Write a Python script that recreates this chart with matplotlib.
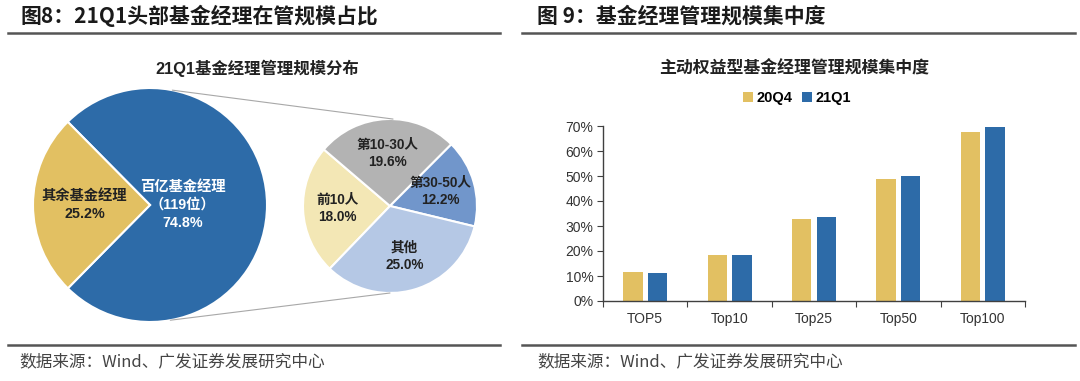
import numpy as np
import matplotlib
matplotlib.use('Agg')
import matplotlib.pyplot as plt
from matplotlib.lines import Line2D
from matplotlib.patches import ConnectionPatch
from matplotlib.ticker import PercentFormatter

plt.rcParams['font.family'] = ['Liberation Sans', 'Noto Sans CJK SC']
CJK = ['Noto Sans CJK SC', 'Liberation Sans']

# 图8 数据
big_labels = ['百亿基金经理\n（119位）', '其余基金经理']
big_values = [74.8, 25.2]
small_labels = ['前10人', '第10-30人', '第30-50人', '其他']
small_values = [18.0, 19.6, 12.2, 25.0]

# 图9 数据
groups = ['TOP5', 'Top10', 'Top25', 'Top50', 'Top100']
q20q4 = [11.5, 18.5, 33.0, 48.8, 67.5]
q21q1 = [11.1, 18.3, 33.8, 50.0, 69.8]

W, H = 1080, 381
fig = plt.figure(figsize=(W / 100, H / 100), dpi=100)


def box(x0, y0, x1, y1):
    """像素框 -> figure 坐标 [left, bottom, width, height]"""
    return [x0 / W, 1 - y1 / H, (x1 - x0) / W, (y1 - y0) / H]


def fx(x):
    return x / W


def fy(y):
    return 1 - y / H


yellow = '#E2C062'
blue = '#2D6BA8'
dark = '#222222'

# 标题与分隔线
fig.text(fx(21), fy(16), '图8：21Q1头部基金经理在管规模占比', fontsize=15,
         fontweight='bold', family=CJK, va='center', ha='left', color='#1a1a1a')
fig.text(fx(537), fy(16), '图 9：基金经理管理规模集中度', fontsize=15,
         fontweight='bold', family=CJK, va='center', ha='left', color='#1a1a1a')
for x0, x1 in [(8, 500), (522, 1075)]:
    fig.add_artist(Line2D([fx(x0), fx(x1)], [fy(33), fy(33)], color='#555555', lw=1.8))
    fig.add_artist(Line2D([fx(x0), fx(x1)], [fy(345), fy(345)], color='#555555', lw=1.8))
fig.text(fx(19), fy(362), '数据来源：Wind、广发证券发展研究中心', fontsize=12,
         family=CJK, va='center', ha='left', color='#444444')
fig.text(fx(537), fy(362), '数据来源：Wind、广发证券发展研究中心', fontsize=12,
         family=CJK, va='center', ha='left', color='#444444')

fig.text(fx(257), fy(68), '21Q1基金经理管理规模分布', fontsize=11.8, fontweight='bold',
         va='center', ha='center', color=dark)
fig.text(fx(794), fy(68), '主动权益型基金经理管理规模集中度', fontsize=12.2, fontweight='bold',
         family=CJK, va='center', ha='center', color=dark)

# 大饼图
ax1 = fig.add_axes(box(33, 88, 267, 322))
w1, _ = ax1.pie(big_values, colors=[blue, yellow], startangle=225.4, counterclock=True,
                wedgeprops=dict(edgecolor='white', linewidth=1.5))
ax1.set_xlim(-1, 1)
ax1.set_ylim(-1, 1)
for w, lab, v, r, c in zip(w1, big_labels, big_values, [0.28, 0.56], ['white', dark]):
    ang = np.deg2rad((w.theta1 + w.theta2) / 2)
    ax1.text(r * np.cos(ang), r * np.sin(ang), f'{lab}\n{v:.1f}%', ha='center', va='center',
             fontsize=10.3, fontweight='bold', color=c, linespacing=1.4)

# 小饼图
ax2 = fig.add_axes(box(303, 119, 477, 293))
small_colors = ['#F3E7B5', '#B3B3B3', '#7196CB', '#B5C8E5']
w2, _ = ax2.pie(small_values, colors=small_colors, startangle=226.1, counterclock=False,
                wedgeprops=dict(edgecolor='white', linewidth=1.5))
ax2.set_xlim(-1, 1)
ax2.set_ylim(-1, 1)
for w, lab, v in zip(w2, small_labels, small_values):
    ang = np.deg2rad((w.theta1 + w.theta2) / 2)
    ax2.text(0.6 * np.cos(ang), 0.6 * np.sin(ang), f'{lab}\n{v:.1f}%', ha='center', va='center',
             fontsize=9.8, fontweight='bold', color=dark, linespacing=1.3)

# 连接线
for a1, a2 in [(79, 88), (-80, -90)]:
    p1 = (np.cos(np.deg2rad(a1)), np.sin(np.deg2rad(a1)))
    p2 = (np.cos(np.deg2rad(a2)), np.sin(np.deg2rad(a2)))
    con = ConnectionPatch(xyA=p1, coordsA=ax1.transData, xyB=p2, coordsB=ax2.transData,
                          color='#A8A8A8', lw=0.8)
    fig.add_artist(con)

# 柱状图
ax3 = fig.add_axes(box(603, 126, 1025, 301))
x = np.arange(len(groups))
bw = 0.23
ax3.bar(x - 0.145, q20q4, bw, color=yellow, label='20Q4')
ax3.bar(x + 0.145, q21q1, bw, color=blue, label='21Q1')
ax3.set_xlim(-0.5, len(groups) - 0.5)
ax3.set_ylim(0, 70)
ax3.set_yticks(np.arange(0, 71, 10))
ax3.yaxis.set_major_formatter(PercentFormatter(decimals=0))
ax3.set_xticks(np.arange(-0.5, len(groups), 1))
ax3.set_xticklabels([])
ax3.set_xticks(x, minor=True)
ax3.set_xticklabels(groups, minor=True)
ax3.tick_params(axis='x', which='major', direction='out', length=4, color='#404040')
ax3.tick_params(axis='x', which='minor', length=0, pad=8, labelsize=10, labelcolor='#333333')
ax3.tick_params(axis='y', direction='out', length=4, color='#404040', labelsize=10,
                labelcolor='#333333', pad=3)
for s in ['top', 'right']:
    ax3.spines[s].set_visible(False)
for s in ['left', 'bottom']:
    ax3.spines[s].set_color('#404040')
    ax3.spines[s].set_linewidth(1)

leg = fig.legend(handles=ax3.patches[:1] + ax3.patches[len(groups):len(groups) + 1],
                 labels=['20Q4', '21Q1'], loc='center', bbox_to_anchor=(fx(797), fy(98)),
                 ncol=2, frameon=False, handlelength=0.7, handleheight=0.7,
                 handletextpad=0.25, columnspacing=0.6,
                 prop={'weight': 'bold', 'size': 10.5})

fig.savefig('out.png', dpi=100)
